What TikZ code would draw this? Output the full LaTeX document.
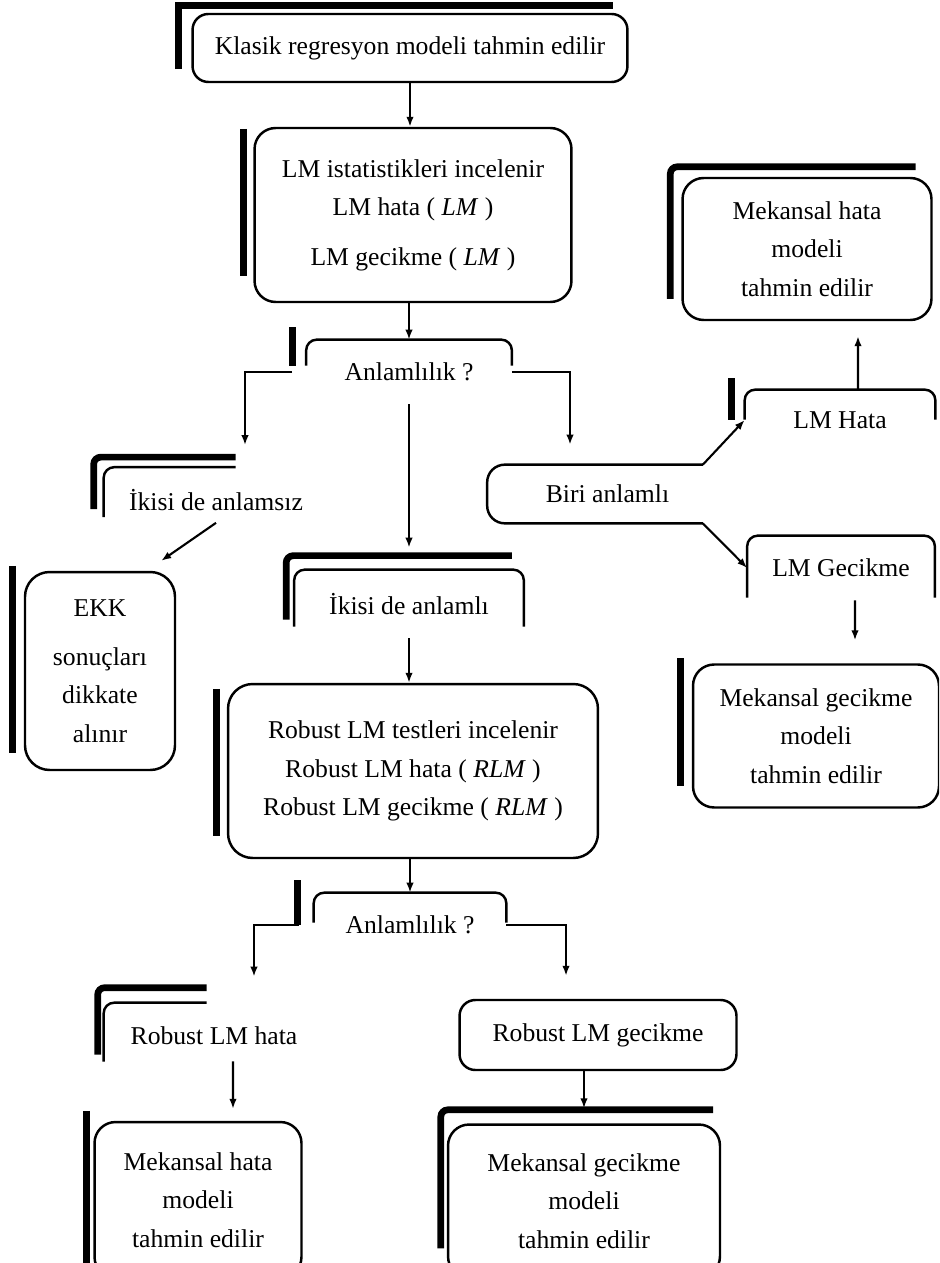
\documentclass[tikz,border=0pt]{standalone}
\usepackage{fontspec}
\setmainfont{Liberation Serif}
\usetikzlibrary{arrows.meta,positioning}

\begin{document}
\begin{tikzpicture}[
    x=0.02cm, y=-0.02cm,
    txt/.style={align=center, font=\fontsize{14.6}{22}\selectfont, inner sep=0pt},
    box/.style={txt, draw, line width=1.4pt, rounded corners=9pt},
    lid/.style={line width=1.4pt, rounded corners=6pt},
    bar/.style={line width=3.8pt},
    arr/.style={-{Latex[length=2mm]}, line width=1.2pt}
  ]
  \useasboundingbox (0,0) rectangle (939,1263);
  \clip (0,0) rectangle (939,1263);

  % middle column
  \node[box, minimum width=8.7cm, minimum height=1.36cm] (klasik) at (410,48) {Klasik regresyon modeli tahmin edilir};
  \node[box, rounded corners=12pt, minimum width=6.34cm, minimum height=3.48cm] (lmstat) at (413,215)
    {LM istatistikleri incelenir\\ LM hata ( \textit{LM} )\\[6pt] LM gecikme ( \textit{LM} )};
  \node[txt, minimum width=4.1cm, minimum height=1.28cm] (anl1) at (409,372) {Anlamlılık ?};
  \node[txt, minimum width=4.58cm, minimum height=1.36cm] (anlamli) at (409,604) {İkisi de anlamlı};
  \node[box, rounded corners=14pt, minimum width=7.4cm, minimum height=3.48cm] (robust) at (413,771)
    {Robust LM testleri incelenir\\ Robust LM hata ( \textit{RLM} )\\ Robust LM gecikme ( \textit{RLM} )};
  \node[txt, minimum width=3.84cm, minimum height=1.28cm] (anl2) at (410,925) {Anlamlılık ?};

  % left column
  \node[txt, minimum width=3.6cm, minimum height=1.3cm] (anlamsiz) at (216,500) {İkisi de anlamsız};
  \node[box, rounded corners=14pt, minimum width=3cm, minimum height=3.96cm] (ekk) at (100,671)
    {EKK\\[6pt] sonuçları\\ dikkate\\ alınır};
  \node[txt, minimum width=3.4cm, minimum height=1cm] (rlmhata) at (214,1036) {Robust LM hata};
  \node[box, rounded corners=12pt, minimum width=4.14cm, minimum height=3.12cm] (mhata2) at (198,1200)
    {Mekansal hata\\ modeli\\ tahmin edilir};

  % right column
  \node[txt, minimum width=4.3cm, minimum height=1.16cm, text depth=0pt] (biri) at (595,494) {\hspace*{0.5cm}Biri anlamlı};
  \node[txt, minimum width=3.8cm, minimum height=1.2cm] (lmhata) at (840,420) {LM Hata};
  \node[txt, minimum width=3.74cm, minimum height=1.28cm] (lmgec) at (841,568) {LM Gecikme};
  \node[box, rounded corners=12pt, minimum width=4.98cm, minimum height=2.84cm] (mhata1) at (807,249)
    {Mekansal hata\\ modeli\\ tahmin edilir};
  \node[box, rounded corners=12pt, minimum width=4.92cm, minimum height=2.86cm] (mgec1) at (816,736)
    {Mekansal gecikme\\ modeli\\ tahmin edilir};
  \node[box, minimum width=5.54cm, minimum height=1.4cm] (rlmgec) at (598,1035) {Robust LM gecikme};
  \node[box, rounded corners=12pt, minimum width=5.44cm, minimum height=3.06cm] (mgec2) at (584,1201)
    {Mekansal gecikme\\ modeli\\ tahmin edilir};

  % open outlines
  \draw[lid] ([yshift=-0.52cm]anl1.north west) -- (anl1.north west) -- (anl1.north east) -- ([yshift=-0.52cm]anl1.north east);
  \draw[lid] ([yshift=-1.14cm]anlamli.north west) -- (anlamli.north west) -- (anlamli.north east) -- ([yshift=-1.14cm]anlamli.north east);
  \draw[lid] ([yshift=-0.6cm]anl2.north west) -- (anl2.north west) -- (anl2.north east) -- ([yshift=-0.6cm]anl2.north east);
  \draw[lid] ([yshift=-0.6cm]lmhata.north west) -- (lmhata.north west) -- (lmhata.north east) -- ([yshift=-0.6cm]lmhata.north east);
  \draw[lid] ([yshift=-1.24cm]lmgec.north west) -- (lmgec.north west) -- (lmgec.north east) -- ([yshift=-1.24cm]lmgec.north east);
  \draw[lid] ([xshift=-0.44cm,yshift=-1cm]anlamsiz.north west) |- ([xshift=2.2cm]anlamsiz.north west);
  \draw[lid] ([xshift=-0.5cm,yshift=-1.02cm]rlmhata.north west) |- ([xshift=1.56cm,yshift=0.16cm]rlmhata.north west);
  \draw[lid, rounded corners=10pt] (biri.north east) -- (biri.north west) -- (biri.south west) -- (biri.south east);

  % heavy edges
  \draw[bar] ([xshift=-0.26cm,yshift=0.28cm]klasik.south west) |- ([xshift=-0.32cm,yshift=0.14cm]klasik.north east);
  \draw[bar] ([xshift=-0.2cm,yshift=-0.04cm]lmstat.north west) -- ([xshift=-0.2cm,yshift=0.54cm]lmstat.south west);
  \draw[bar] ([xshift=-0.28cm,yshift=-0.52cm]anl1.north west) -- ([xshift=-0.28cm,yshift=0.26cm]anl1.north west);
  \draw[bar, rounded corners=4pt] ([xshift=-0.64cm,yshift=-0.84cm]anlamsiz.north west) |- ([xshift=2.2cm,yshift=0.2cm]anlamsiz.north west);
  \draw[bar] ([xshift=-0.22cm,yshift=0.1cm]ekk.north west) -- ([xshift=-0.22cm,yshift=0.36cm]ekk.south west);
  \draw[bar, rounded corners=4pt] ([xshift=-0.16cm,yshift=-1cm]anlamli.north west) |- ([xshift=-0.24cm,yshift=0.28cm]anlamli.north east);
  \draw[bar] ([xshift=-0.2cm,yshift=-0.12cm]robust.north west) -- ([xshift=-0.2cm,yshift=0.46cm]robust.south west);
  \draw[bar] ([xshift=-0.32cm,yshift=-0.64cm]anl2.north west) -- ([xshift=-0.32cm,yshift=0.26cm]anl2.north west);
  \draw[bar, rounded corners=4pt] ([xshift=-0.62cm,yshift=-0.88cm]rlmhata.north west) |- ([xshift=1.56cm,yshift=0.46cm]rlmhata.north west);
  \draw[bar] ([xshift=-0.14cm,yshift=0.2cm]mhata2.north west) -- ([xshift=-0.14cm,yshift=0.32cm]mhata2.south west);
  \draw[bar, rounded corners=4pt] ([xshift=-0.12cm,yshift=-2.5cm]mgec2.north west) |- ([xshift=-0.16cm,yshift=0.27cm]mgec2.north east);
  \draw[bar] ([xshift=-0.26cm,yshift=-0.6cm]lmhata.north west) -- ([xshift=-0.26cm,yshift=0.24cm]lmhata.north west);
  \draw[bar, rounded corners=4pt] ([xshift=-0.22cm,yshift=-2.44cm]mhata1.north west) |- ([xshift=-0.34cm,yshift=0.2cm]mhata1.north east);
  \draw[bar] ([xshift=-0.22cm,yshift=0.1cm]mgec1.north west) -- ([xshift=-0.22cm,yshift=0.46cm]mgec1.south west);

  % connectors
  \draw[arr] (klasik.south) -- (klasik.south |- lmstat.north);
  \draw[arr] (lmstat.south -| anl1.north) -- (anl1.north);
  \draw[arr] ([xshift=-0.28cm]anl1.west) -| ([xshift=0.58cm,yshift=0.44cm]anlamsiz.north);
  \draw[arr] (anl1.east) -| ([xshift=-0.5cm,yshift=0.4cm]biri.north);
  \draw[arr] (anl1.south) -- ([yshift=0.44cm]anlamli.north);
  \draw[arr] ([yshift=0.2cm]anlamsiz.south) -- ([xshift=-0.3cm,yshift=0.2cm]ekk.north east);
  \draw[arr] (anlamli.south) -- (anlamli.south |- robust.north);
  \draw[arr] (robust.south -| anl2.north) -- (anl2.north);
  \draw[arr] ([xshift=-0.3cm]anl2.west) -| ([xshift=0.8cm,yshift=0.68cm]rlmhata.north);
  \draw[arr] (anl2.east) -| ([xshift=-0.64cm,yshift=0.46cm]rlmgec.north);
  \draw[arr] ([xshift=0.38cm]rlmhata.south) -- ([xshift=0.7cm,yshift=0.24cm]mhata2.north);
  \draw[arr] (rlmgec.south -| mgec2.north) -- ([yshift=0.3cm]mgec2.north);
  \draw[arr] (biri.north east) -- (lmhata.west);
  \draw[arr] (biri.south east) -- (lmgec.west);
  \draw[arr] ([xshift=0.36cm]lmhata.north) -- ([xshift=1.02cm,yshift=-0.3cm]mhata1.south);
  \draw[arr] ([xshift=0.28cm]lmgec.south) -- ([xshift=0.78cm,yshift=0.46cm]mgec1.north);
\end{tikzpicture}
\end{document}
